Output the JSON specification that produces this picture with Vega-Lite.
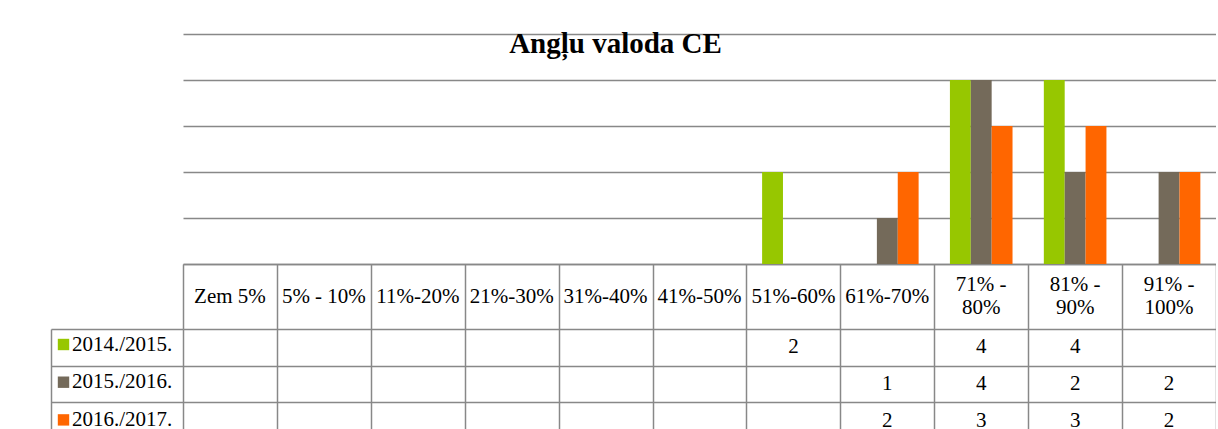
{
  "$schema": "https://vega.github.io/schema/vega-lite/v6.json",
  "padding": {"left": 50, "top": 30, "right": 0, "bottom": 0},
  "background": "white",
  "config": {"view": {"stroke": null}, "font": "Liberation Serif"},
  "spacing": 0,
  "bounds": "flush",
  "datasets": {
    "bars": [
      {"category": "51%-60%", "series": "2014./2015.", "value": 2},
      {"category": "71% - 80%", "series": "2014./2015.", "value": 4},
      {"category": "81% - 90%", "series": "2014./2015.", "value": 4},
      {"category": "61%-70%", "series": "2015./2016.", "value": 1},
      {"category": "71% - 80%", "series": "2015./2016.", "value": 4},
      {"category": "81% - 90%", "series": "2015./2016.", "value": 2},
      {"category": "91% - 100%", "series": "2015./2016.", "value": 2},
      {"category": "61%-70%", "series": "2016./2017.", "value": 2},
      {"category": "71% - 80%", "series": "2016./2017.", "value": 3},
      {"category": "81% - 90%", "series": "2016./2017.", "value": 3},
      {"category": "91% - 100%", "series": "2016./2017.", "value": 2}
    ],
    "header": [
      {"category": "Zem 5%", "line1": "Zem 5%", "line2": null},
      {"category": "5% - 10%", "line1": "5% - 10%", "line2": null},
      {"category": "11%-20%", "line1": "11%-20%", "line2": null},
      {"category": "21%-30%", "line1": "21%-30%", "line2": null},
      {"category": "31%-40%", "line1": "31%-40%", "line2": null},
      {"category": "41%-50%", "line1": "41%-50%", "line2": null},
      {"category": "51%-60%", "line1": "51%-60%", "line2": null},
      {"category": "61%-70%", "line1": "61%-70%", "line2": null},
      {"category": "71% - 80%", "line1": "71% -", "line2": "80%"},
      {"category": "81% - 90%", "line1": "81% -", "line2": "90%"},
      {"category": "91% - 100%", "line1": "91% -", "line2": "100%"}
    ]
  },
  "vconcat": [
    {
      "width": 1033,
      "height": 230,
      "data": {"name": "bars"},
      "title": {
        "text": "Angļu valoda CE",
        "font": "Liberation Serif",
        "fontSize": 29,
        "fontWeight": "bold",
        "color": "black",
        "anchor": "middle",
        "baseline": "alphabetic",
        "offset": -48,
        "dx": -84
      },
      "mark": {"type": "bar"},
      "encoding": {
        "x": {
          "field": "category",
          "type": "nominal",
          "scale": {"domain": ["Zem 5%", "5% - 10%", "11%-20%", "21%-30%", "31%-40%", "41%-50%", "51%-60%", "61%-70%", "71% - 80%", "81% - 90%", "91% - 100%"], "paddingInner": 0, "paddingOuter": 0},
          "axis": {
            "title": null,
            "grid": false,
            "domain": true,
            "domainColor": "#888888",
            "domainWidth": 1.5,
            "ticks": false,
            "labels": false
          }
        },
        "xOffset": {
          "field": "series",
          "type": "nominal",
          "scale": {"domain": ["2014./2015.", "2015./2016.", "2016./2017."], "paddingInner": 0, "paddingOuter": 0.75}
        },
        "y": {
          "field": "value",
          "type": "quantitative",
          "scale": {"domain": [0, 5], "nice": false},
          "axis": {
            "title": null,
            "labels": false,
            "ticks": false,
            "domain": false,
            "grid": true,
            "gridColor": "#888888",
            "gridWidth": 1.5,
            "tickCount": 5
          }
        },
        "color": {
          "field": "series",
          "type": "nominal",
          "scale": {"domain": ["2014./2015.", "2015./2016.", "2016./2017."], "range": ["#97c700", "#746a5a", "#ff6600"]},
          "legend": {
            "orient": "none",
            "legendX": -130,
            "legendY": 300,
            "title": null,
            "symbolType": "square",
            "symbolSize": 130,
            "symbolStrokeWidth": 0,
            "labelFont": "Liberation Serif",
            "labelFontSize": 21,
            "labelColor": "black",
            "labelOffset": -2,
            "rowPadding": 15.7,
            "padding": 0
          }
        }
      }
    },
    {
      "width": 1033,
      "height": 65,
      "data": {"name": "header"},
      "encoding": {
        "x": {
          "field": "category",
          "type": "nominal",
          "scale": {"domain": ["Zem 5%", "5% - 10%", "11%-20%", "21%-30%", "31%-40%", "41%-50%", "51%-60%", "61%-70%", "71% - 80%", "81% - 90%", "91% - 100%"], "paddingInner": 0, "paddingOuter": 0},
          "axis": {
            "orient": "top",
            "title": null,
            "labels": false,
            "ticks": false,
            "domain": false,
            "grid": true,
            "tickBand": "extent",
            "gridColor": "#888888",
            "gridWidth": 1.5
          }
        }
      },
      "layer": [
        {
          "transform": [{"filter": "datum.line2 == null"}],
          "mark": {"type": "text", "font": "Liberation Serif", "fontSize": 21, "color": "black", "align": "center", "baseline": "middle"},
          "encoding": {"text": {"field": "line1", "type": "nominal"}}
        },
        {
          "transform": [{"filter": "datum.line2 != null"}],
          "mark": {"type": "text", "font": "Liberation Serif", "fontSize": 21, "color": "black", "align": "center", "baseline": "middle", "dy": -11.75},
          "encoding": {"text": {"field": "line1", "type": "nominal"}}
        },
        {
          "transform": [{"filter": "datum.line2 != null"}],
          "mark": {"type": "text", "font": "Liberation Serif", "fontSize": 21, "color": "black", "align": "center", "baseline": "middle", "dy": 11.75},
          "encoding": {"text": {"field": "line2", "type": "nominal"}}
        }
      ]
    },
    {
      "width": 1033,
      "height": 110,
      "data": {"name": "bars"},
      "mark": {"type": "text", "font": "Liberation Serif", "fontSize": 21, "color": "black", "align": "center", "baseline": "middle"},
      "encoding": {
        "x": {
          "field": "category",
          "type": "nominal",
          "scale": {"domain": ["Zem 5%", "5% - 10%", "11%-20%", "21%-30%", "31%-40%", "41%-50%", "51%-60%", "61%-70%", "71% - 80%", "81% - 90%", "91% - 100%"], "paddingInner": 0, "paddingOuter": 0},
          "axis": {
            "orient": "top",
            "title": null,
            "labels": false,
            "ticks": false,
            "domain": false,
            "grid": true,
            "tickBand": "extent",
            "gridColor": "#888888",
            "gridWidth": 1.5
          }
        },
        "y": {
          "field": "series",
          "type": "nominal",
          "scale": {"domain": ["2014./2015.", "2015./2016.", "2016./2017."], "paddingInner": 0, "paddingOuter": 0},
          "axis": {
            "title": null,
            "offset": 132,
            "labels": false,
            "domain": true,
            "domainColor": "#888888",
            "domainWidth": 1.5,
            "ticks": true,
            "tickSize": -132,
            "tickColor": "#888888",
            "tickWidth": 1.5,
            "tickBand": "extent",
            "grid": true,
            "gridColor": "#888888",
            "gridWidth": 1.5
          }
        },
        "text": {"field": "value", "type": "quantitative"}
      }
    }
  ]
}
